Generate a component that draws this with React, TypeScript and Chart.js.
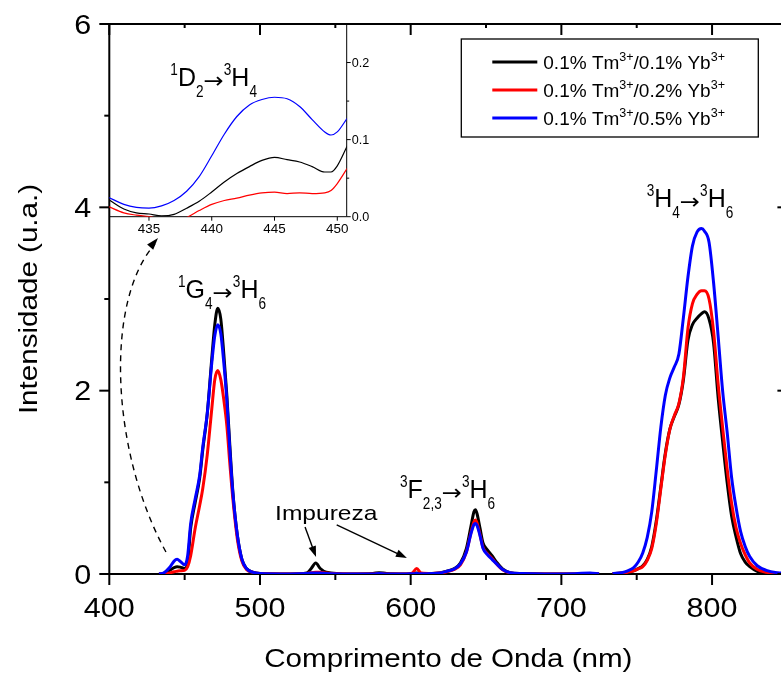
import { useEffect, useRef } from 'react';
import { Chart, registerables } from 'chart.js';

Chart.register(...registerables);

// ---------------- data ----------------
const wavelengths = [
  433, 436, 440, 443, 445, 447, 450, 452, 454, 457, 460, 462, 465, 468, 470, 472, 474, 476, 478, 480, 482, 485, 488, 491, 495, 500,
  520, 531, 534, 537, 540, 544, 560, 575, 579, 584, 597, 601, 604, 607, 614,
  619, 624, 629, 633, 637, 640, 642, 643, 644, 646, 648, 651, 654, 657, 661, 666, 674, 689, 709, 719, 725,
  730,
  734, 740, 744, 748, 751, 754, 757, 760, 763, 766, 769, 772, 775, 778, 781, 784, 787, 790, 793, 795, 798, 801, 804, 807, 810, 813, 816, 819, 822, 825, 830, 836, 843, 850,
];

const tm01yb01 = [
  0, 0.005, 0.04, 0.07, 0.08, 0.075, 0.06, 0.12, 0.5, 0.78, 1.05, 1.35, 1.75, 2.35, 2.72, 2.9, 2.78, 2.4, 1.95, 1.4, 0.9, 0.42, 0.16, 0.06, 0.02, 0.005,
  0, 0.01, 0.06, 0.12, 0.06, 0.02, 0, 0.005, 0.015, 0.005, 0, 0.005, 0.01, 0.005, 0.005,
  0.01, 0.03, 0.06, 0.12, 0.28, 0.52, 0.68, 0.7, 0.66, 0.5, 0.34, 0.26, 0.2, 0.13, 0.055, 0.015, 0.005, 0, 0, 0.005, 0,
  null,
  0.005, 0.01, 0.02, 0.035, 0.06, 0.09, 0.16, 0.3, 0.58, 0.95, 1.32, 1.58, 1.72, 1.85, 2.12, 2.55, 2.72, 2.79, 2.84, 2.86, 2.78, 2.52, 1.93, 1.45, 1.0, 0.63, 0.4, 0.22, 0.13, 0.08, 0.03, 0.01, 0.005, 0,
];

const tm01yb02 = [
  0, 0, 0.01, 0.025, 0.03, 0.035, 0.04, 0.08, 0.2, 0.5, 0.75, 0.93, 1.3, 1.8, 2.12, 2.22, 2.12, 1.9, 1.62, 1.2, 0.82, 0.38, 0.14, 0.05, 0.02, 0.005,
  0, 0.005, 0.015, 0.02, 0.02, 0.01, 0, 0, 0.005, 0, 0, 0.01, 0.06, 0.01, 0.005,
  0.01, 0.025, 0.05, 0.1, 0.24, 0.45, 0.57, 0.59, 0.56, 0.43, 0.29, 0.22, 0.17, 0.11, 0.045, 0.012, 0.004, 0, 0, 0.004, 0,
  null,
  0.005, 0.01, 0.02, 0.035, 0.055, 0.08, 0.15, 0.28, 0.55, 0.93, 1.3, 1.58, 1.73, 1.86, 2.15, 2.68, 2.95, 3.05, 3.09, 3.09, 3.0, 2.65, 2.08, 1.6, 1.15, 0.77, 0.5, 0.33, 0.21, 0.12, 0.05, 0.02, 0.008, 0.005,
];

const tm01yb05 = [
  0, 0.01, 0.07, 0.14, 0.16, 0.14, 0.1, 0.2, 0.55, 0.82, 1.08, 1.38, 1.75, 2.3, 2.6, 2.72, 2.62, 2.3, 1.9, 1.35, 0.88, 0.42, 0.16, 0.06, 0.02, 0.005,
  0, 0.005, 0.01, 0.01, 0.01, 0.005, 0, 0, 0.005, 0, 0, 0.003, 0.005, 0.003, 0.005,
  0.01, 0.03, 0.055, 0.11, 0.24, 0.44, 0.54, 0.55, 0.53, 0.42, 0.28, 0.21, 0.16, 0.11, 0.05, 0.015, 0.005, 0, 0.003, 0.012, 0.002,
  null,
  0.005, 0.015, 0.035, 0.07, 0.13, 0.23, 0.4, 0.68, 1.13, 1.6, 1.95, 2.14, 2.26, 2.4, 2.8, 3.24, 3.58, 3.73, 3.77, 3.74, 3.62, 3.18, 2.6, 2.0, 1.55, 1.05, 0.72, 0.46, 0.3, 0.19, 0.09, 0.04, 0.015, 0.008,
];

const insetWavelengths = [431.8, 433, 434, 435, 436, 437, 438, 439, 440, 441, 442, 443, 444, 445, 446, 447, 448, 449, 449.5, 450, 450.8];
const insetYb01 = [0.022, 0.01, 0.005, 0.0035, 0.001, 0.003, 0.011, 0.02, 0.032, 0.045, 0.056, 0.065, 0.073, 0.077, 0.074, 0.071, 0.065, 0.058, 0.058, 0.066, 0.092];
const insetYb02 = [0.013, 0.005, 0.002, 0.0, -0.003, -0.004, -0.001, 0.008, 0.016, 0.021, 0.024, 0.028, 0.031, 0.032, 0.03, 0.031, 0.03, 0.031, 0.034, 0.043, 0.063];
const insetYb05 = [0.025, 0.016, 0.012, 0.011, 0.014, 0.021, 0.033, 0.052, 0.079, 0.107, 0.13, 0.145, 0.152, 0.155, 0.153, 0.143, 0.126, 0.11, 0.106, 0.11, 0.128];

const seriesColors = ['#000000', '#ff0000', '#0000ff'];
type Kind = 'n' | 'sup' | 'sub' | 'arr';
type Seg = [string, Kind];
const seriesLabels: Seg[][] = [
  [['0.1% Tm', 'n'], ['3+', 'sup'], ['/0.1% Yb', 'n'], ['3+', 'sup']],
  [['0.1% Tm', 'n'], ['3+', 'sup'], ['/0.2% Yb', 'n'], ['3+', 'sup']],
  [['0.1% Tm', 'n'], ['3+', 'sup'], ['/0.5% Yb', 'n'], ['3+', 'sup']],
];

const xMajorTicks = [400, 500, 600, 700, 800];
const xMinorTicks = [450, 550, 650, 750, 850];
const yMajorTicks = [0, 2, 4, 6];
const yMinorTicks = [1, 3, 5];
const insetXTicks = [435, 440, 445, 450];
const insetYTicks = [0, 0.1, 0.2];
const insetYMinorTicks = [0.05, 0.15];

const xTitle = 'Comprimento de Onda (nm)';
const yTitle = 'Intensidade (u.a.)';

// annotation labels (positions in data units)
const labelG: Seg[] = [['1', 'sup'], ['G', 'n'], ['4', 'sub'], ['\u2192', 'arr'], ['3', 'sup'], ['H', 'n'], ['6', 'sub']];
const labelH: Seg[] = [['3', 'sup'], ['H', 'n'], ['4', 'sub'], ['\u2192', 'arr'], ['3', 'sup'], ['H', 'n'], ['6', 'sub']];
const labelF: Seg[] = [['3', 'sup'], ['F', 'n'], ['2,3', 'sub'], ['\u2192', 'arr'], ['3', 'sup'], ['H', 'n'], ['6', 'sub']];
const labelD: Seg[] = [['1', 'sup'], ['D', 'n'], ['2', 'sub'], ['\u2192', 'arr'], ['3', 'sup'], ['H', 'n'], ['4', 'sub']];
const labelGPos = [445.6, 3.01];
const labelHPos = [756.6, 4.0];
const labelFPos = [592.9, 0.83];
const labelDPos = [436.7, 0.17];
const impurezaText = 'Impureza';
const impurezaPos = [510, 0.59];
const impArrow1 = [529.9, 0.513, 537.2, 0.185];
const impArrow2 = [550.9, 0.535, 597.5, 0.175];
const dashedArc = [437.6, 0.24, 400.5, 1.353, 397.1, 2.989, 432.3, 3.665];

// ---------------- drawing helpers ----------------
const FONT = '"Liberation Sans", Arial, Helvetica, sans-serif';
const ARROW_FONT = '"DejaVu Sans", "Liberation Sans", sans-serif';

function drawText(
  ctx: CanvasRenderingContext2D, s: string, x: number, y: number, size: number, sx: number,
  align: CanvasTextAlign = 'left', rotate = 0,
) {
  ctx.save();
  ctx.font = `${size}px ${FONT}`;
  ctx.textAlign = align;
  ctx.textBaseline = 'alphabetic';
  ctx.translate(x, y);
  if (rotate) ctx.rotate(rotate);
  ctx.scale(sx, 1);
  ctx.fillText(s, 0, 0);
  ctx.restore();
}

interface RichStyle {
  size: number; supSize: number; arrSize: number; sx: number; supSx: number; arrSx: number;
  raise: number; drop: number; arrDrop: number;
}

function drawRich(ctx: CanvasRenderingContext2D, segs: Seg[], x: number, y: number, st: RichStyle) {
  let cx = x;
  for (const [t, k] of segs) {
    const fs = k === 'sup' || k === 'sub' ? st.supSize : k === 'arr' ? st.arrSize : st.size;
    const s = k === 'n' ? st.sx : k === 'arr' ? st.arrSx : st.supSx;
    const dy = k === 'sup' ? -st.raise : k === 'sub' ? st.drop : k === 'arr' ? st.arrDrop : 0;
    ctx.save();
    ctx.font = `${fs}px ${k === 'arr' ? ARROW_FONT : FONT}`;
    ctx.textAlign = 'left';
    ctx.textBaseline = 'alphabetic';
    const w = ctx.measureText(t).width;
    ctx.translate(cx, y + dy);
    ctx.scale(s, 1);
    ctx.fillText(t, 0, 0);
    ctx.restore();
    cx += w * s;
  }
}

const transitionStyle: RichStyle = {
  size: 25, supSize: 16, arrSize: 22, sx: 1.0, supSx: 0.85, arrSx: 1.1, raise: 11, drop: 11, arrDrop: 2,
};
const legendStyle: RichStyle = {
  size: 19, supSize: 12.5, arrSize: 19, sx: 1.0, supSx: 1.0, arrSx: 1.0, raise: 8, drop: 5, arrDrop: 0,
};

function seg(ctx: CanvasRenderingContext2D, x1: number, y1: number, x2: number, y2: number) {
  ctx.beginPath();
  ctx.moveTo(x1, y1);
  ctx.lineTo(x2, y2);
  ctx.stroke();
}

function arrowHead(ctx: CanvasRenderingContext2D, tx: number, ty: number, fx: number, fy: number, len: number, half: number) {
  const ang = Math.atan2(ty - fy, tx - fx);
  ctx.beginPath();
  ctx.moveTo(tx, ty);
  ctx.lineTo(tx - len * Math.cos(ang) + half * Math.sin(ang), ty - len * Math.sin(ang) - half * Math.cos(ang));
  ctx.lineTo(tx - len * Math.cos(ang) - half * Math.sin(ang), ty - len * Math.sin(ang) + half * Math.cos(ang));
  ctx.closePath();
  ctx.fill();
}

const mainDecor = {
  id: 'mainDecor',
  beforeDatasetsDraw(chart: any) {
    const { ctx, chartArea: a } = chart;
    ctx.save();
    ctx.strokeStyle = '#000';
    ctx.lineWidth = 2;
    ctx.strokeRect(a.left, a.top, a.right - a.left, a.bottom - a.top);
    ctx.restore();
  },
  afterDraw(chart: any) {
    const { ctx, chartArea: a, scales } = chart;
    const X = (v: number) => scales.x.getPixelForValue(v);
    const Y = (v: number) => scales.y.getPixelForValue(v);
    ctx.save();
    ctx.strokeStyle = '#000';
    ctx.fillStyle = '#000';
    ctx.lineWidth = 2;
    for (const v of xMajorTicks) {
      seg(ctx, X(v), a.bottom, X(v), a.bottom + 11);
      seg(ctx, X(v), a.top, X(v), a.top + 11);
    }
    for (const v of xMinorTicks) {
      seg(ctx, X(v), a.bottom, X(v), a.bottom + 6);
      seg(ctx, X(v), a.top, X(v), a.top + 4);
    }
    for (const v of yMajorTicks) {
      seg(ctx, a.left - 10, Y(v), a.left, Y(v));
      seg(ctx, a.right - 10, Y(v), a.right, Y(v));
    }
    for (const v of yMinorTicks) {
      seg(ctx, a.left - 5, Y(v), a.left, Y(v));
      seg(ctx, a.right - 5, Y(v), a.right, Y(v));
    }
    // tick labels
    for (const v of xMajorTicks) drawText(ctx, String(v), X(v), a.bottom + 43, 27, 1.13, 'center');
    for (const v of yMajorTicks) drawText(ctx, String(v), a.left - 18, Y(v) + 9.7, 27, 1.13, 'right');
    // titles
    drawText(ctx, xTitle, (a.left + a.right) / 2, a.bottom + 92.5, 25.5, 1.16, 'center');
    drawText(ctx, yTitle, a.left - 72, (a.top + a.bottom) / 2, 25.5, 1.16, 'center', -Math.PI / 2);

    // transition labels
    for (const [segs, pos] of [[labelG, labelGPos], [labelH, labelHPos], [labelF, labelFPos]] as [Seg[], number[]][]) {
      drawRich(ctx, segs, X(pos[0]), Y(pos[1]), transitionStyle);
    }
    // Impureza
    drawText(ctx, impurezaText, X(impurezaPos[0]), Y(impurezaPos[1]), 21, 1.17, 'left');
    ctx.lineWidth = 1.4;
    for (const ar of [impArrow1, impArrow2]) {
      const x1 = X(ar[0]), y1 = Y(ar[1]), x2 = X(ar[2]), y2 = Y(ar[3]);
      const ang = Math.atan2(y2 - y1, x2 - x1);
      seg(ctx, x1, y1, x2 - 8 * Math.cos(ang), y2 - 8 * Math.sin(ang));
      arrowHead(ctx, x2, y2, x1, y1, 11, 3.8);
    }
    // dashed arc
    const p = dashedArc;
    ctx.lineWidth = 1.4;
    ctx.setLineDash([6, 5]);
    ctx.beginPath();
    ctx.moveTo(X(p[0]), Y(p[1]));
    ctx.bezierCurveTo(X(p[2]), Y(p[3]), X(p[4]), Y(p[5]), X(p[6]) - 3, Y(p[7]) + 6);
    ctx.stroke();
    ctx.setLineDash([]);
    arrowHead(ctx, X(p[6]), Y(p[7]), X(p[4]), Y(p[5]), 12, 4);

    // legend
    const lx = a.left + 352, ly = a.top + 15, lw = 297, lh = 98;
    ctx.lineWidth = 1.3;
    ctx.strokeRect(lx, ly, lw, lh);
    seriesLabels.forEach((segs, i) => {
      const ry = ly + 23 + i * 28;
      ctx.strokeStyle = seriesColors[i];
      ctx.lineWidth = 3;
      seg(ctx, lx + 31, ry, lx + 76, ry);
      ctx.fillStyle = '#000';
      drawRich(ctx, segs, lx + 82, ry + 7, legendStyle);
    });
    ctx.restore();
  },
};

const insetDecor = {
  id: 'insetDecor',
  beforeDatasetsDraw(chart: any) {
    const { ctx, chartArea: a, scales } = chart;
    const X = (v: number) => scales.x.getPixelForValue(v);
    const Y = (v: number) => scales.y.getPixelForValue(v);
    ctx.save();
    ctx.strokeStyle = '#000';
    ctx.fillStyle = '#000';
    ctx.lineWidth = 1;
    seg(ctx, a.left, a.bottom, a.right, a.bottom);
    seg(ctx, a.right, a.top, a.right, a.bottom);
    for (const v of insetXTicks) seg(ctx, X(v), a.bottom, X(v), a.bottom + 4);
    for (const v of insetYTicks) seg(ctx, a.right, Y(v), a.right + 4, Y(v));
    for (const v of insetYMinorTicks) seg(ctx, a.right, Y(v), a.right + 2.5, Y(v));
    for (const v of insetXTicks) drawText(ctx, String(v), X(v), a.bottom + 16, 12, 1.12, 'center');
    for (const v of insetYTicks) drawText(ctx, v.toFixed(1), a.right + 5, Y(v) + 4.3, 12, 1.05, 'left');
    ctx.restore();
  },
  afterDraw(chart: any) {
    const { ctx, scales } = chart;
    const X = (v: number) => scales.x.getPixelForValue(v);
    const Y = (v: number) => scales.y.getPixelForValue(v);
    ctx.save();
    ctx.fillStyle = '#000';
    drawRich(ctx, labelD, X(labelDPos[0]), Y(labelDPos[1]), transitionStyle);
    ctx.restore();
  },
};

function makeSeries(xs: number[], ys: (number | null)[]) {
  return xs.map((x, i) => ({ x, y: ys[i] }));
}

export default function App() {
  const mainRef = useRef<HTMLCanvasElement>(null);
  const insetRef = useRef<HTMLCanvasElement>(null);

  useEffect(() => {
    const mainValues = [tm01yb01, tm01yb02, tm01yb05];
    const main = new Chart(mainRef.current as HTMLCanvasElement, {
      type: 'line',
      data: {
        datasets: mainValues.map((vals, i) => ({
          data: makeSeries(wavelengths, vals),
          borderColor: seriesColors[i],
          backgroundColor: seriesColors[i],
          borderWidth: 3,
          pointRadius: 0,
          cubicInterpolationMode: 'monotone' as const,
          spanGaps: false,
          fill: false,
          order: 3 - i,
        })),
      },
      options: {
        responsive: false,
        animation: false,
        events: [],
        layout: { padding: { left: 109.3, top: 24, right: 12.6, bottom: 103 } },
        plugins: { legend: { display: false }, tooltip: { enabled: false } },
        scales: {
          x: { type: 'linear', min: 400, max: 850, display: false },
          y: { type: 'linear', min: 0, max: 6, display: false },
        },
      },
      plugins: [mainDecor],
    } as any);

    const insetValues = [insetYb01, insetYb02, insetYb05];
    const inset = new Chart(insetRef.current as HTMLCanvasElement, {
      type: 'line',
      data: {
        datasets: insetValues.map((vals, i) => ({
          data: makeSeries(insetWavelengths, vals),
          borderColor: seriesColors[i],
          backgroundColor: seriesColors[i],
          borderWidth: 1.2,
          pointRadius: 0,
          cubicInterpolationMode: 'monotone' as const,
          fill: false,
          clip: 0,
        })),
      },
      options: {
        responsive: false,
        animation: false,
        events: [],
        layout: { padding: { left: 9.3, top: 9, right: 43.3, bottom: 28.3 } },
        plugins: { legend: { display: false }, tooltip: { enabled: false } },
        scales: {
          x: { type: 'linear', min: 431.84, max: 450.75, display: false },
          y: { type: 'linear', min: 0, max: 0.25, display: false },
        },
      },
      plugins: [insetDecor],
    } as any);

    return () => {
      main.destroy();
      inset.destroy();
    };
  }, []);

  return (
    <div style={{ position: 'absolute', left: 0, top: 0, width: 781, height: 677, overflow: 'hidden', background: '#ffffff' }}>
      <canvas ref={mainRef} width={800} height={677} style={{ position: 'absolute', left: 0, top: 0 }} />
      <canvas ref={insetRef} width={290} height={230} style={{ position: 'absolute', left: 100, top: 15 }} />
    </div>
  );
}
